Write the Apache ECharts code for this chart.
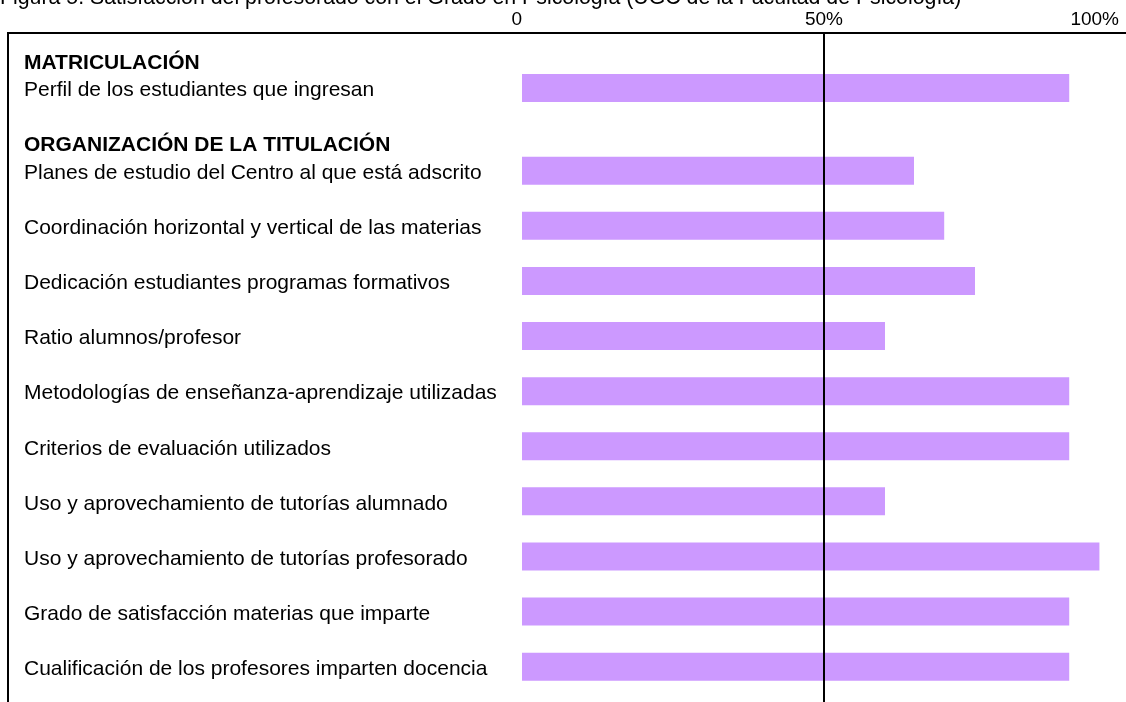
<!DOCTYPE html>
<html>
<head>
<meta charset="utf-8">
<title>Satisfacción del profesorado</title>
<script src="https://cdn.jsdelivr.net/npm/echarts@6/dist/echarts.min.js"></script>
<style>
    html, body { margin: 0; padding: 0; background: #fff; }
    #chart { width: 1126px; height: 702px; }
</style>
</head>
<body>
<div id="chart"></div>
<script>
const titleText = 'Figura 5. Satisfacción del profesorado con el Grado en Psicología (UGC de la Facultad de Psicología)';
const headers = ['MATRICULACIÓN', 'ORGANIZACIÓN DE LA TITULACIÓN'];
const matriculaItems = ['Perfil de los estudiantes que ingresan'];
const matriculaValues = [90.6];
const organizacionItems = [
    'Planes de estudio del Centro al que está adscrito',
    'Coordinación horizontal y vertical de las materias',
    'Dedicación estudiantes programas formativos',
    'Ratio alumnos/profesor',
    'Metodologías de enseñanza-aprendizaje utilizadas',
    'Criterios de evaluación utilizados',
    'Uso y aprovechamiento de tutorías alumnado',
    'Uso y aprovechamiento de tutorías profesorado',
    'Grado de satisfacción materias que imparte',
    'Cualificación de los profesores imparten docencia'
];
const organizacionValues = [64.9, 69.9, 75, 60.1, 90.6, 90.6, 60.1, 95.6, 90.6, 90.6];
const axisTicks = [0, 50, 100];

const barColor = '#CC99FF';
const gridTop = 33;
const rowPitch = 27.55;

// rows: blank, header, item, blank, item, blank ...
let categories = [];
let values = [];
let sepCount = 0;
function addSep() {
    categories.push('sep' + (sepCount++));
    values.push('-');
}
function addSection(header, items, vals) {
    categories.push(header);
    values.push('-');
    for (let i = 0; i < items.length; i++) {
        if (i > 0) addSep();
        categories.push(items[i]);
        values.push(vals[i]);
    }
    addSep();
}
addSep();
addSection(headers[0], matriculaItems, matriculaValues);
addSection(headers[1], organizacionItems, organizacionValues);
addSep();

const chart = echarts.init(document.getElementById('chart'));

const option = {
    animation: false,
    title: {
        text: titleText,
        left: 0,
        top: -12,
        padding: 0,
        textStyle: {
            fontFamily: 'Liberation Sans',
            fontSize: 21.3,
            fontWeight: 'normal',
            color: '#000'
        }
    },
    grid: {
        left: 522,
        right: 0,
        top: gridTop,
        height: rowPitch * (categories.length - 1),
        outerBoundsMode: 'none',
        containLabel: false
    },
    xAxis: {
        type: 'value',
        position: 'top',
        min: axisTicks[0],
        max: axisTicks[axisTicks.length - 1],
        interval: axisTicks[1] - axisTicks[0],
        axisLine: {show: false},
        axisTick: {show: false},
        splitLine: {show: false},
        axisLabel: {
            margin: 4,
            fontFamily: 'Liberation Sans',
            fontSize: 19,
            color: '#000',
            alignMinLabel: 'right',
            alignMaxLabel: 'right',
            formatter: function (v) {
                if (v === 0) return '0';
                if (v === 100) return '{m|' + v + '%}';
                return v + '%';
            },
            rich: {
                m: {fontFamily: 'Liberation Sans', fontSize: 19, color: '#000', padding: [0, 7, 0, 0]}
            }
        }
    },
    yAxis: {
        type: 'category',
        inverse: true,
        boundaryGap: false,
        data: categories,
        axisLine: {show: false},
        axisTick: {show: false},
        splitLine: {show: false},
        axisLabel: {
            interval: 0,
            align: 'left',
            margin: 498,
            padding: [5, 0, 0, 0],
            fontFamily: 'Liberation Sans',
            fontSize: 21,
            color: '#000',
            formatter: function (v) {
                if (v.indexOf('sep') === 0) return '';
                if (headers.indexOf(v) >= 0) return '{h|' + v + '}';
                return v;
            },
            rich: {
                h: {fontFamily: 'Liberation Sans', fontSize: 21, fontWeight: 'bold', color: '#000'}
            }
        }
    },
    series: [{
        type: 'bar',
        data: values,
        barWidth: 28,
        itemStyle: {color: barColor},
        markLine: {
            silent: true,
            symbol: ['none', 'none'],
            label: {show: false},
            lineStyle: {color: '#000', width: 2, type: 'solid'},
            data: [{xAxis: axisTicks[1]}]
        }
    }],
    graphic: [{
        type: 'polyline',
        shape: {points: [[8, 710], [8, gridTop], [1130, gridTop]]},
        style: {stroke: '#000', lineWidth: 2, fill: null}
    }]
};

chart.setOption(option);
</script>
</body>
</html>
